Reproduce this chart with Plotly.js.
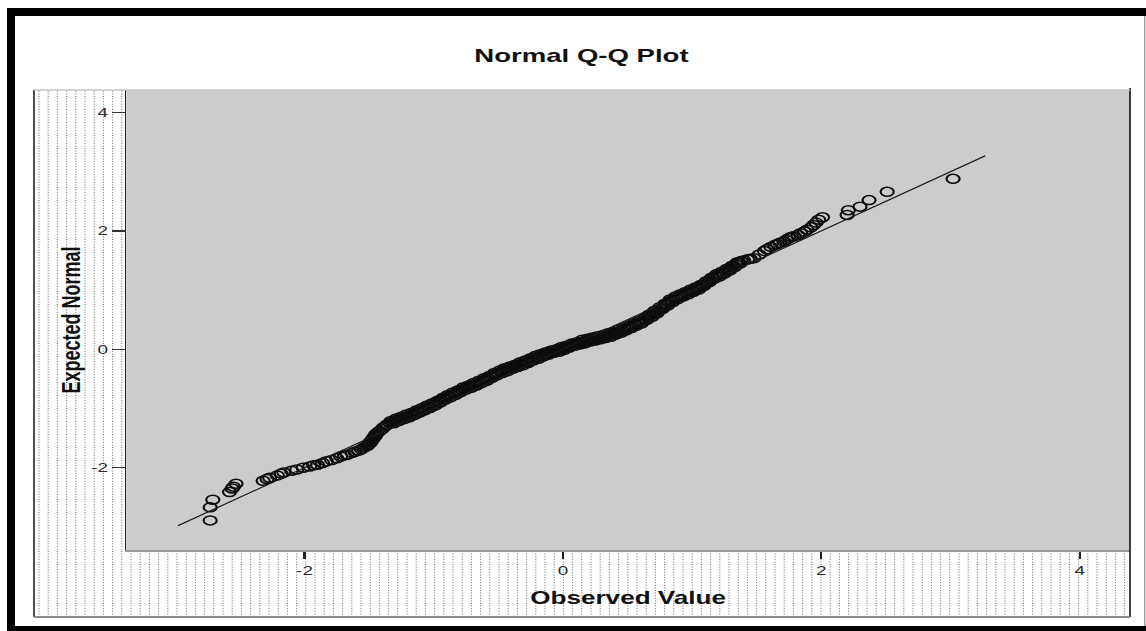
<!DOCTYPE html>
<html><head><meta charset="utf-8">
<script src="https://cdn.plot.ly/plotly-3.0.1.min.js"></script>
<style>
html,body{margin:0;padding:0;background:#fff;overflow:hidden;width:1146px;height:631px}
#chart{width:790px;height:631px;transform:scaleX(1.450633);transform-origin:0 0;}
</style>
</head><body><div id="chart"></div>
<script>
// ---- data ----
const obsLow = [-2.73,-2.73,-2.71,-2.58,-2.56,-2.55,-2.53,-2.32,-2.29,-2.27,-2.21,-2.18,-2.16,-2.10,-2.06,-2.01,-1.96,-1.93,-1.90,-1.86,-1.83,-1.79,-1.75,-1.72,-1.69,-1.67,-1.63,-1.61,-1.58,-1.56,-1.54];
const expLow = [-2.89,-2.67,-2.54,-2.41,-2.35,-2.32,-2.27,-2.22,-2.19,-2.17,-2.13,-2.10,-2.08,-2.05,-2.03,-2.00,-1.98,-1.96,-1.95,-1.92,-1.89,-1.87,-1.84,-1.81,-1.79,-1.78,-1.75,-1.73,-1.71,-1.69,-1.66];

const obsMid = [-1.52,-1.51,-1.50,-1.49,-1.49,-1.48,-1.47,-1.47,-1.46,-1.45,-1.45,-1.44,-1.43,-1.42,-1.40,-1.39,-1.37,-1.36,-1.34,-1.32,-1.30,-1.28,-1.26,-1.24,-1.22,-1.20,-1.18,-1.16,-1.14,-1.12,-1.10,-1.08,-1.06,-1.04,-1.02,-1.00,-0.98,-0.96,-0.94,-0.92,-0.90,-0.88,-0.86,-0.84,-0.82,-0.80,-0.78,-0.76,-0.74,-0.72,-0.70,-0.68,-0.66,-0.64,-0.62,-0.60,-0.58,-0.56,-0.54,-0.52,-0.50,-0.48,-0.46,-0.44,-0.42,-0.40,-0.38,-0.36,-0.34,-0.32,-0.30,-0.28,-0.26,-0.24,-0.22,-0.20,-0.18,-0.16,-0.14,-0.12,-0.10,-0.08,-0.06,-0.04,-0.02,0.00,0.02,0.04,0.06,0.08,0.10,0.12,0.14,0.16,0.18,0.20,0.22,0.24,0.26,0.28,0.30,0.32,0.34,0.36,0.38,0.40,0.42,0.44,0.46,0.48,0.50,0.52,0.54,0.56,0.58,0.60,0.62,0.64,0.66,0.68,0.70,0.72,0.74,0.76,0.78,0.80,0.82,0.84,0.86,0.88,0.90,0.92,0.94,0.96,0.98,1.00,1.02,1.04,1.06,1.08,1.10,1.12,1.14,1.16,1.18,1.20,1.22,1.24,1.26,1.28,1.30,1.32,1.34,1.36,1.38];
const expMid = [-1.64,-1.62,-1.60,-1.58,-1.56,-1.54,-1.52,-1.50,-1.48,-1.46,-1.44,-1.42,-1.40,-1.38,-1.35,-1.32,-1.29,-1.27,-1.25,-1.23,-1.21,-1.19,-1.17,-1.16,-1.14,-1.13,-1.11,-1.09,-1.07,-1.05,-1.03,-1.01,-0.99,-0.97,-0.95,-0.93,-0.91,-0.88,-0.86,-0.83,-0.81,-0.79,-0.77,-0.75,-0.73,-0.70,-0.68,-0.66,-0.64,-0.63,-0.61,-0.59,-0.57,-0.55,-0.53,-0.51,-0.49,-0.46,-0.44,-0.42,-0.40,-0.38,-0.36,-0.34,-0.33,-0.31,-0.29,-0.28,-0.26,-0.24,-0.23,-0.21,-0.19,-0.17,-0.15,-0.13,-0.12,-0.10,-0.08,-0.07,-0.05,-0.04,-0.02,-0.01,0.00,0.02,0.03,0.05,0.06,0.08,0.09,0.10,0.12,0.13,0.14,0.15,0.16,0.17,0.18,0.19,0.20,0.21,0.23,0.24,0.25,0.27,0.29,0.30,0.32,0.34,0.36,0.38,0.40,0.42,0.44,0.46,0.48,0.51,0.54,0.57,0.60,0.63,0.66,0.69,0.72,0.76,0.79,0.82,0.85,0.87,0.89,0.91,0.93,0.95,0.97,0.99,1.01,1.03,1.05,1.08,1.11,1.14,1.17,1.20,1.23,1.25,1.27,1.30,1.32,1.35,1.37,1.40,1.43,1.46,1.49];

// upper edge of the dense band
const obsBandUp = [-1.33,-1.29,-1.25,-1.21,-1.17,-1.13,-1.09,-1.05,-1.01,-0.97,-0.93,-0.89,-0.85,-0.81,-0.77,-0.73,-0.69,-0.65,-0.61,-0.57,-0.53,-0.49,-0.45,-0.41,-0.37,-0.33,-0.29,-0.25,-0.21,-0.17,-0.13,-0.09,-0.05,-0.01,0.03,0.07,0.11,0.15,0.19,0.23,0.27,0.31,0.35,0.39,0.43,0.47,0.51,0.55,0.59,0.63,0.67,0.71,0.75,0.79,0.83,0.87,0.91,0.95,0.99,1.03,1.07,1.11,1.15,1.19,1.23,1.27,1.31,1.35];
const expBandUp = [-1.21,-1.17,-1.14,-1.10,-1.07,-1.03,-0.99,-0.95,-0.91,-0.87,-0.82,-0.77,-0.73,-0.69,-0.64,-0.61,-0.57,-0.53,-0.49,-0.45,-0.40,-0.36,-0.32,-0.29,-0.26,-0.22,-0.19,-0.15,-0.11,-0.08,-0.05,-0.02,0.00,0.04,0.06,0.10,0.12,0.16,0.18,0.20,0.22,0.24,0.27,0.29,0.33,0.36,0.40,0.44,0.48,0.52,0.59,0.65,0.71,0.77,0.84,0.89,0.93,0.97,1.01,1.05,1.09,1.15,1.21,1.27,1.31,1.36,1.41,1.47];

// lower edge of the dense band
const obsBandLo = [-1.31,-1.27,-1.23,-1.19,-1.15,-1.11,-1.07,-1.03,-0.99,-0.95,-0.91,-0.87,-0.83,-0.79,-0.75,-0.71,-0.67,-0.63,-0.59,-0.55,-0.51,-0.47,-0.43,-0.39,-0.35,-0.31,-0.27,-0.23,-0.19,-0.15,-0.11,-0.07,-0.03,0.01,0.05,0.09,0.13,0.17,0.21,0.25,0.29,0.33,0.37,0.41,0.45,0.49,0.53,0.57,0.61,0.65,0.69,0.73,0.77,0.81,0.85,0.89,0.93,0.97,1.01,1.05,1.09,1.13,1.17,1.21,1.25,1.29,1.33,1.37];
const expBandLo = [-1.25,-1.21,-1.18,-1.15,-1.11,-1.07,-1.03,-0.99,-0.95,-0.90,-0.85,-0.81,-0.77,-0.72,-0.68,-0.65,-0.61,-0.57,-0.53,-0.48,-0.44,-0.40,-0.37,-0.33,-0.30,-0.27,-0.23,-0.19,-0.16,-0.12,-0.09,-0.06,-0.04,-0.01,0.03,0.06,0.08,0.10,0.13,0.15,0.17,0.19,0.21,0.25,0.28,0.32,0.36,0.40,0.44,0.50,0.55,0.61,0.68,0.74,0.80,0.85,0.89,0.93,0.97,1.01,1.07,1.13,1.19,1.23,1.28,1.33,1.39,1.45];

const obsHigh = [1.40,1.43,1.45,1.48,1.52,1.56,1.58,1.61,1.64,1.66,1.68,1.71,1.73,1.75,1.77,1.79,1.82,1.84,1.87,1.89,1.92,1.94,1.96,1.98,2.01,2.20,2.21,2.30,2.37,2.51,3.02];
const expHigh = [1.50,1.52,1.53,1.54,1.60,1.66,1.69,1.73,1.76,1.78,1.80,1.82,1.85,1.88,1.90,1.91,1.93,1.96,1.99,2.02,2.06,2.10,2.14,2.19,2.23,2.27,2.35,2.41,2.52,2.66,2.88];

const lineX = [-2.98, 3.27];
const lineY = [-2.98, 3.27];

const xTickVals = [-2, 0, 2, 4];
const xTickText = ['-2', '0', '2', '4'];
const yTickVals = [-2, 0, 2, 4];
const yTickText = ['-2', '0', '2', '4'];

const chartTitle = 'Normal Q-Q Plot';
const xTitle = 'Observed Value';
const yTitle = 'Expected Normal';

// ---- geometry helpers (screen px -> paper) ----
const W = 790, H = 631, K = 1146 / W;
const M = {l: 87, r: 11, t: 90, b: 81};
const pw = W - M.l - M.r, ph = H - M.t - M.b;
const px = X => (X / K - M.l) / pw;
const py = Y => (H - M.b - Y) / ph;

const shapes = [];
// dotted hatch pattern around the plot area
for (let n = 0; n <= 118; n++) {
  const X = 39 + 9.2 * n;
  const y0 = X < 126 ? 90 : 552;
  shapes.push({type: 'line', xref: 'paper', yref: 'paper', layer: 'below',
    x0: px(X), x1: px(X), y0: py(617), y1: py(y0),
    line: {color: '#7a7a7a', width: 0.8, dash: '1px,1.6px'}});
}
// frame of the hatched chart region
shapes.push({type: 'line', xref: 'paper', yref: 'paper', x0: px(34), x1: px(34), y0: py(90), y1: py(617), line: {color: '#333', width: 1.2}});
shapes.push({type: 'line', xref: 'paper', yref: 'paper', x0: px(1130), x1: px(1130), y0: py(88), y1: py(617), line: {color: '#222', width: 1.2}});
shapes.push({type: 'line', xref: 'paper', yref: 'paper', x0: px(34), x1: px(1130), y0: py(617), y1: py(617), line: {color: '#8a8a8a', width: 2}});
shapes.push({type: 'line', xref: 'paper', yref: 'paper', x0: px(34), x1: px(1130), y0: py(90), y1: py(90), line: {color: '#c4c4c4', width: 1.5}});
// thick outer black frame
const rect = (x0, y0, x1, y1, c) => ({type: 'rect', xref: 'paper', yref: 'paper', layer: 'above',
  x0: px(x0), x1: px(x1), y0: py(y1), y1: py(y0), fillcolor: c, line: {width: 0}});
shapes.push(rect(7, 8, 15, 631, '#000'));
shapes.push(rect(7, 8, 1146, 16, '#000'));
shapes.push(rect(7, 626, 1146, 631, '#000'));
shapes.push(rect(1144, 16, 1145.5, 626, '#a0a0a0'));

const FONT = 'Liberation Sans, Arial, Helvetica, sans-serif';

const traces = [
  {type: 'scatter', mode: 'markers', name: 'points',
   x: obsLow.concat(obsMid, obsBandUp, obsBandLo, obsHigh),
   y: expLow.concat(expMid, expBandUp, expBandLo, expHigh),
   marker: {symbol: 'circle-open', size: 9, color: '#0d0d0d', line: {width: 1.5, color: '#0d0d0d'}},
   hoverinfo: 'skip'},
  {type: 'scatter', mode: 'lines', name: 'line', x: lineX, y: lineY,
   line: {color: '#1a1a1a', width: 1.1}, hoverinfo: 'skip'}
];

const layout = {
  width: W, height: H, margin: M, showlegend: false,
  paper_bgcolor: '#ffffff', plot_bgcolor: '#cccccc',
  font: {family: FONT, color: '#222'},
  title: {text: chartTitle, font: {family: FONT, size: 19, weight: 'bold', color: '#111'},
    xref: 'container', yref: 'container', x: 581.5 / 1146, y: 1 - 55 / 631, xanchor: 'center', yanchor: 'middle'},
  xaxis: {range: [-3.38, 4.39], tickmode: 'array', tickvals: xTickVals, ticktext: xTickText,
    ticks: 'outside', ticklen: 7, tickwidth: 1.4, tickcolor: '#222',
    showline: true, linecolor: '#9a9a9a', linewidth: 2, showgrid: false, zeroline: false,
    tickfont: {family: FONT, size: 13, color: '#2a2a2a'},
    title: {text: xTitle, standoff: 15, font: {family: FONT, size: 18, weight: 'bold', color: '#111'}}},
  yaxis: {range: [-3.39, 4.38], tickmode: 'array', tickvals: yTickVals, ticktext: yTickText,
    ticks: 'outside', ticklen: 9, tickwidth: 1.2, tickcolor: '#333',
    showline: true, linecolor: '#222', linewidth: 1, showgrid: false, zeroline: false,
    tickfont: {family: FONT, size: 13, color: '#2a2a2a'},
    title: {text: yTitle, standoff: 2, font: {family: FONT, size: 18, weight: 'bold', color: '#111'}}},
  shapes: shapes
};

Plotly.newPlot('chart', traces, layout, {displayModeBar: false, staticPlot: true});
</script></body></html>
